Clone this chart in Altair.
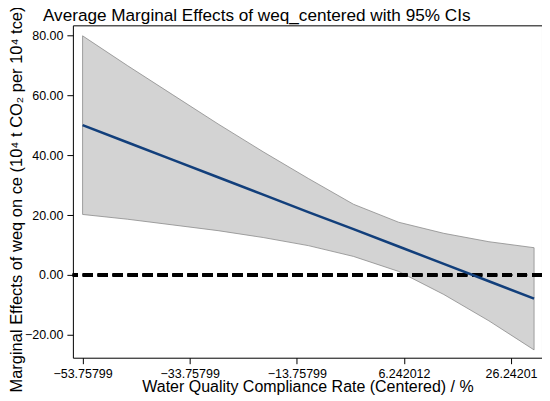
import altair as alt
import pandas as pd

# Values
x_vals = [-53.758, -45.33, -36.90, -28.47, -20.04, -11.61, -3.18, 5.25, 13.68, 22.11, 30.54]
me_vals = [50.0, 44.2, 38.4, 32.6, 26.8, 21.0, 15.3, 9.5, 3.7, -2.1, -7.9]
upper_vals = [79.8, 69.8, 60.1, 50.4, 41.1, 32.2, 23.6, 17.6, 13.9, 11.1, 9.1]
lower_vals = [20.2, 18.6, 16.7, 14.8, 12.5, 9.8, 6.2, 1.2, -6.5, -15.3, -25.0]
x_ticks = [-53.75799, -33.75799, -13.75799, 6.242012, 26.24201]
y_ticks = [-20, 0, 20, 40, 60, 80]
title_text = ["Average Marginal Effects of weq_centered with 95% CIs"]

df = pd.DataFrame({"x": x_vals, "me": me_vals, "lo": lower_vals, "hi": upper_vals})
tdf = pd.DataFrame({"t": title_text})

FONT = "Liberation Sans"

xscale = alt.Scale(domain=[-55.57, 32.02], nice=False, zero=False)
yscale = alt.Scale(domain=[-27.6, 83.3], nice=False, zero=False)

xaxis = alt.Axis(
    values=x_ticks, format=".7", grid=False, domain=False,
    tickSize=6, tickColor="black", labelPadding=4,
    labelFontSize=12.5, labelColor="black", labelFont=FONT,
    title="Water Quality Compliance Rate (Centered) / %",
    titleFontSize=16, titleFont=FONT, titleFontWeight="normal", titleColor="black",
    titleBaseline="alphabetic", titleY=34, titleX=235, titleAnchor="middle",
)
yaxis = alt.Axis(
    values=y_ticks, format=".2f", grid=False, domain=False,
    tickSize=6, tickColor="black", labelPadding=4,
    labelFontSize=12.5, labelColor="black", labelFont=FONT,
    title="Marginal Effects of weq on ce (10\u2074 t CO\u2082 per 10\u2074 tce)",
    titleFontSize=16.5, titleFont=FONT, titleFontWeight="normal", titleColor="black",
    titleAngle=-90, titleBaseline="alphabetic", titleAlign="center",
    titleX=-51, titleY=174,
)

band = alt.Chart(df).mark_area(
    color="#d3d3d3", opacity=1, stroke="#8c8c8c", strokeWidth=0.8
).encode(
    x=alt.X("x:Q", scale=xscale, axis=xaxis),
    y=alt.Y("lo:Q", scale=yscale, axis=yaxis),
    y2="hi:Q",
)

line = alt.Chart(df).mark_line(color="#123f7b", strokeWidth=2.5).encode(
    x=alt.X("x:Q", scale=xscale),
    y=alt.Y("me:Q", scale=yscale),
)

zero = alt.Chart(df).mark_rule(
    color="black", strokeWidth=3, strokeDash=[10, 5]
).encode(y=alt.datum(0))

title = alt.Chart(tdf).mark_text(
    align="left", baseline="alphabetic", fontSize=17.2, font=FONT, color="black"
).encode(text="t:N", x=alt.value(-30), y=alt.value(-4))

chart = alt.layer(band, zero, line, title).properties(
    width=470,
    height=333,
    autosize=alt.AutoSizeParams(type="none"),
    padding={"left": 65, "top": 17, "right": 0, "bottom": 38},
    background="white",
).configure_view(stroke="black", strokeWidth=1)

chart.save("out.html", embed_options={"renderer": "svg", "actions": False})
